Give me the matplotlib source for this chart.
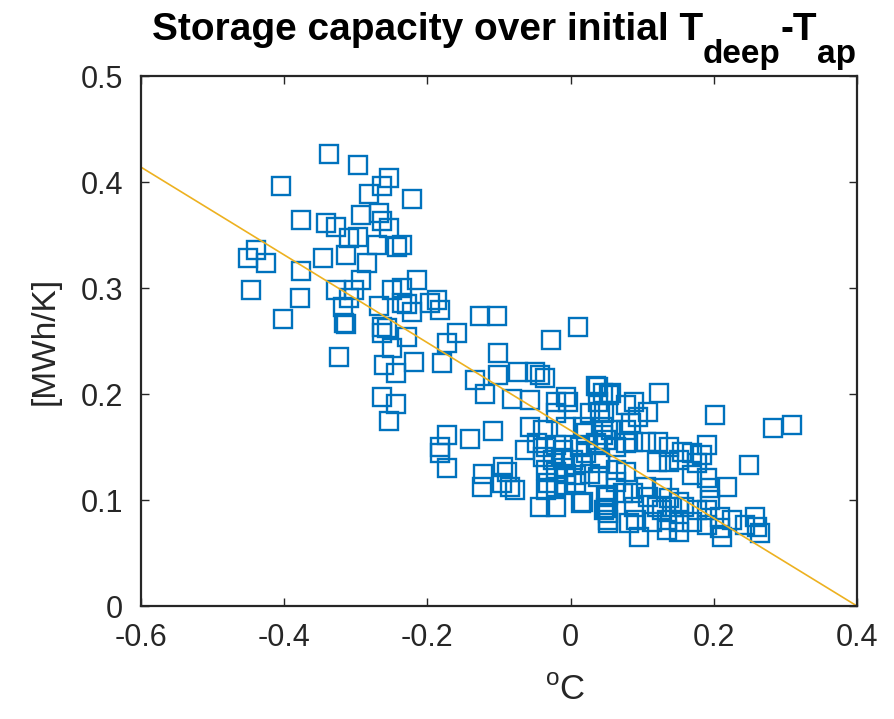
import numpy as np
import matplotlib
matplotlib.use("Agg")
import matplotlib.pyplot as plt

plt.rcParams['font.family'] = ['Liberation Sans', 'DejaVu Sans']
plt.rcParams['mathtext.fontset'] = 'custom'
plt.rcParams['mathtext.rm'] = 'Liberation Sans'
plt.rcParams['mathtext.bf'] = 'Liberation Sans:bold'
plt.rcParams['axes.unicode_minus'] = False

# scatter data: initial T_deep - T_ap [degC] vs storage capacity [MWh/K]
dT = [-0.338, -0.297, -0.405, -0.253, -0.264, -0.282, -0.222, -0.293, -0.267, -0.264,
      -0.253, -0.376, -0.341, -0.328, -0.309, -0.297, -0.271, -0.242, -0.235, -0.439,
      -0.450, -0.425, -0.346, -0.313, -0.284, -0.376, -0.293, -0.215, -0.446, -0.378,
      -0.327, -0.302, -0.249, -0.235, -0.309, -0.268, -0.235, -0.222, -0.197, -0.186,
      -0.183, -0.318, -0.402, -0.316, -0.263, -0.313, -0.229, -0.257, -0.264, -0.229,
      -0.249, -0.324, -0.260, -0.244, -0.219, -0.179, -0.172, -0.264, -0.244, -0.253,
      -0.173, -0.183, -0.126, -0.103, 0.011, -0.158, -0.027, -0.101, -0.134, -0.101,
      -0.073, -0.050, -0.043, -0.036, -0.120, -0.082, -0.057, -0.020, -0.006, -0.004,
      0.038, 0.045, 0.054, 0.038, 0.041, 0.027, 0.078, -0.020, -0.057, -0.039,
      -0.006, 0.017, 0.045, 0.057, 0.078, -0.141, -0.109, -0.183, -0.172, -0.064,
      -0.047, -0.034, -0.020, -0.011, 0.013, 0.022, 0.036, 0.050, 0.064, 0.078,
      -0.039, -0.025, -0.011, 0.003, 0.017, 0.041, 0.064, 0.078, -0.034, -0.020,
      -0.006, 0.008, -0.123, -0.095, -0.089, -0.124, -0.096, -0.085, -0.078, -0.032,
      -0.020, -0.006, 0.008, -0.043, -0.020, 0.015, 0.050, 0.047, 0.052, 0.073,
      -0.034, 0.036, 0.057, 0.123, 0.089, 0.108, 0.201, 0.282, 0.309, 0.047,
      0.085, 0.094, 0.022, 0.045, 0.087, 0.106, 0.122, 0.138, 0.155, 0.170,
      0.184, 0.190, 0.152, 0.120, 0.138, 0.177, 0.249, 0.041, 0.027, 0.064,
      0.038, 0.170, 0.190, 0.219, 0.194, 0.052, 0.017, 0.050, 0.052, 0.087,
      0.106, 0.128, 0.108, 0.089, 0.120, 0.138, 0.152, 0.127, 0.142, 0.159,
      0.176, 0.194, 0.191, 0.208, 0.225, 0.243, 0.257, 0.260, 0.264, 0.092,
      0.082, 0.096, 0.113, 0.135, 0.152, 0.152, 0.135, 0.170, 0.190, 0.208,
      0.212, 0.052]
cap = [0.426, 0.416, 0.396, 0.404, 0.396, 0.389, 0.384, 0.369, 0.371, 0.363,
       0.357, 0.364, 0.361, 0.358, 0.347, 0.348, 0.341, 0.339, 0.341, 0.336,
       0.328, 0.324, 0.328, 0.331, 0.324, 0.316, 0.308, 0.308, 0.298, 0.291,
       0.298, 0.298, 0.298, 0.300, 0.291, 0.283, 0.286, 0.277, 0.286, 0.289,
       0.279, 0.282, 0.271, 0.267, 0.263, 0.266, 0.285, 0.262, 0.258, 0.254,
       0.243, 0.235, 0.227, 0.220, 0.230, 0.229, 0.248, 0.197, 0.191, 0.175,
       0.161, 0.150, 0.274, 0.274, 0.263, 0.258, 0.251, 0.239, 0.213, 0.218,
       0.221, 0.221, 0.218, 0.215, 0.200, 0.195, 0.194, 0.192, 0.197, 0.192,
       0.207, 0.201, 0.199, 0.192, 0.183, 0.182, 0.190, 0.182, 0.169, 0.166,
       0.169, 0.169, 0.169, 0.166, 0.166, 0.158, 0.165, 0.144, 0.130, 0.147,
       0.154, 0.150, 0.152, 0.147, 0.150, 0.144, 0.154, 0.157, 0.150, 0.154,
       0.141, 0.138, 0.140, 0.138, 0.135, 0.135, 0.128, 0.126, 0.128, 0.126,
       0.125, 0.124, 0.125, 0.131, 0.126, 0.112, 0.116, 0.112, 0.109, 0.116,
       0.112, 0.114, 0.116, 0.093, 0.093, 0.097, 0.103, 0.091, 0.081, 0.107,
       0.109, 0.208, 0.201, 0.201, 0.192, 0.183, 0.180, 0.168, 0.171, 0.182,
       0.173, 0.178, 0.163, 0.161, 0.155, 0.155, 0.155, 0.150, 0.145, 0.144,
       0.142, 0.152, 0.138, 0.136, 0.136, 0.135, 0.133, 0.140, 0.125, 0.117,
       0.122, 0.124, 0.121, 0.112, 0.111, 0.105, 0.098, 0.092, 0.078, 0.107,
       0.112, 0.111, 0.103, 0.093, 0.093, 0.102, 0.098, 0.091, 0.093, 0.093,
       0.091, 0.100, 0.091, 0.084, 0.081, 0.076, 0.084, 0.075, 0.069, 0.081,
       0.078, 0.065, 0.079, 0.081, 0.079, 0.070, 0.072, 0.079, 0.076, 0.074,
       0.065, 0.088]

# linear fit
fit_slope = -0.414
fit_intercept = 0.1656
fit_x = [-0.6, 0.4]

W, H = 894, 719
fig = plt.figure(figsize=(W / 100, H / 100), dpi=100)
ax = fig.add_axes([141/W, 113/H, 716/W, 530/H])

ax.plot(dT, cap, 's', markersize=12.5, markerfacecolor='none',
        markeredgecolor='#0072BD', markeredgewidth=1.7, linestyle='none')
fx = np.array(fit_x)
ax.plot(fx, fit_intercept + fit_slope * fx, color='#EDB120', linewidth=1.2)

ax.set_xlim(-0.6, 0.4)
ax.set_ylim(0, 0.5)
ax.set_xticks([-0.6, -0.4, -0.2, 0, 0.2, 0.4])
ax.set_xticklabels(['-0.6', '-0.4', '-0.2', '0', '0.2', '0.4'])
ax.set_yticks([0, 0.1, 0.2, 0.3, 0.4, 0.5])
ax.set_yticklabels(['0', '0.1', '0.2', '0.3', '0.4', '0.5'])
ax.tick_params(direction='in', length=6, width=1, top=True, right=True,
               labelsize=22, colors='#262626')
ax.tick_params(axis='y', pad=13)
ax.tick_params(axis='x', pad=12)
for s in ax.spines.values():
    s.set_linewidth(1.6)
    s.set_color('#262626')

ax.set_xlabel(r'$^\mathrm{o}$C', fontsize=25, color='#262626')
ax.xaxis.set_label_coords((565 - 141) / 716, -0.128)
ax.set_ylabel('[MWh/K]', fontsize=24, color='#262626', labelpad=14)

# title with large, low subscripts (MATLAB tex style), built piece by piece
pieces = [('Storage capacity over initial T', 28, 0),
          ('deep', 24, 23),
          ('-T', 28, 0),
          ('ap', 24, 23)]
renderer = fig.canvas.get_renderer()
texts = []
for s, size, drop in pieces:
    t = fig.text(0, 0, s, fontsize=size, fontweight='bold', va='baseline', ha='left')
    texts.append((t, drop))
widths = [t.get_window_extent(renderer).width for t, _ in texts]
x = 504 - sum(widths) / 2
base = H - 40
for (t, drop), w in zip(texts, widths):
    t.set_position((x / W, (base - drop) / H))
    x += w

fig.savefig('out.png', dpi=100)
